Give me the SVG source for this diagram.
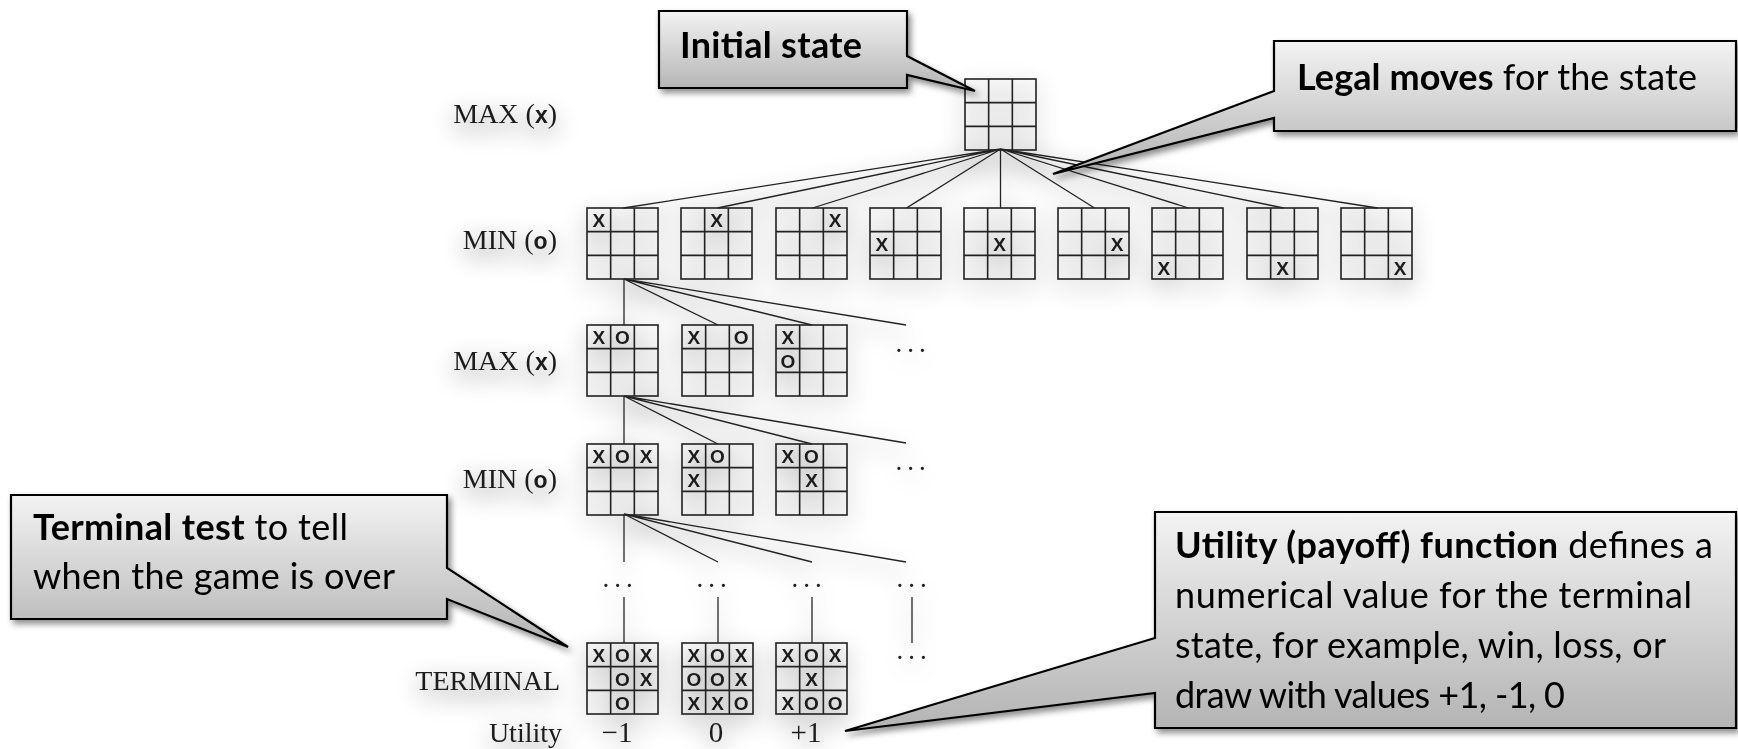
<svg xmlns="http://www.w3.org/2000/svg" xmlns:xlink="http://www.w3.org/1999/xlink" width="1738" height="749" viewBox="0 0 1738 749">
  <defs>
    <style>
      .grid { fill: none; stroke: #222; stroke-width: 1.6; }
      .mk { font-family: "Liberation Sans", Arial, sans-serif; font-weight: bold; font-size: 19px; text-anchor: middle; fill: #1a1a1a; }
      .lbl { font-family: "Liberation Serif", "Times New Roman", serif; font-size: 28px; fill: #1a1a1a; text-anchor: end; }
      .lbl .pl { font-family: "Liberation Sans", Arial, sans-serif; font-weight: bold; font-size: 23px; }
      .val { font-family: "Liberation Serif", "Times New Roman", serif; font-size: 29px; fill: #1a1a1a; text-anchor: middle; }
      .dots { font-family: "Liberation Serif", "Times New Roman", serif; font-size: 27px; fill: #1a1a1a; letter-spacing: 5px; text-anchor: middle; }
      .edge { stroke: #222; stroke-width: 1.3; fill: none; }
      .callout { fill: url(#calloutFill); stroke: #000; stroke-width: 2.2; stroke-linejoin: miter; filter: url(#calloutShadow); }
      .ct { font-family: Lato, "Open Sans", sans-serif; font-size: 36px; fill: #000; }
      .b { font-weight: bold; }
    </style>
    <linearGradient id="calloutFill" x1="0" y1="0" x2="0" y2="1">
      <stop offset="0" stop-color="#f3f3f3"/>
      <stop offset="1" stop-color="#b3b3b3"/>
    </linearGradient>
    <filter id="calloutShadow" x="-10%" y="-10%" width="125%" height="130%">
      <feDropShadow dx="3" dy="4" stdDeviation="3" flood-color="#000" flood-opacity="0.45"/>
    </filter>
    <filter id="haze" x="-20%" y="-20%" width="140%" height="140%">
      <feGaussianBlur in="SourceAlpha" stdDeviation="12" result="blur"/>
      <feOffset in="blur" dx="0" dy="8" result="off"/>
      <feComponentTransfer in="off" result="soft">
        <feFuncA type="linear" slope="0.6"/>
      </feComponentTransfer>
      <feMerge>
        <feMergeNode in="soft"/>
        <feMergeNode in="SourceGraphic"/>
      </feMerge>
    </filter>
    <!-- empty 3x3 tic-tac-toe board, 71 px square -->
    <g id="grid">
      <rect class="grid" x="0" y="0" width="71" height="71"/>
      <path class="grid" d="M23.67,0 V71 M47.33,0 V71 M0,23.67 H71 M0,47.33 H71"/>
    </g>
  </defs>

  <rect width="1738" height="749" fill="#fff"/>

  <g id="tree" filter="url(#haze)">
    <!-- level labels -->
    <g id="labels">
      <text class="lbl" x="557" y="123">MAX (<tspan class="pl">x</tspan>)</text>
      <text class="lbl" x="557" y="249">MIN (<tspan class="pl">o</tspan>)</text>
      <text class="lbl" x="557" y="370">MAX (<tspan class="pl">x</tspan>)</text>
      <text class="lbl" x="557" y="488">MIN (<tspan class="pl">o</tspan>)</text>
      <text class="lbl" x="560" y="690">TERMINAL</text>
      <text class="lbl" x="562" y="742">Utility</text>
    </g>

    <!-- tree edges -->
    <g id="connectors">
      <path class="edge" d="M1000.5,149 L623.5,208 M1000.5,149 L717.5,208 M1000.5,149 L812.5,208 M1000.5,149 L906.5,208 M1000.5,149 L1000.5,208 M1000.5,149 L1094.5,208 M1000.5,149 L1188.5,208 M1000.5,149 L1283.5,208 M1000.5,149 L1377.5,208"/>
      <path class="edge" d="M624,279 V325 M624,279 L718,325 M624,279 L812,325 M624,279 L906,325"/>
      <path class="edge" d="M624,396 V444 M624,396 L718,444 M624,396 L812,444 M624,396 L906,443"/>
      <path class="edge" d="M624,514 V562 M624,514 L718,562 M624,514 L812,562 M624,514 L906,562"/>
      <path class="edge" d="M624,597 V643 M718,597 V643 M812,597 V643 M912,597 V643"/>
    </g>

    <!-- continuation marks -->
    <g id="ellipses">
      <text class="dots" x="913" y="352">...</text>
      <text class="dots" x="913" y="470">...</text>
      <text class="dots" x="620" y="587">...</text>
      <text class="dots" x="714" y="587">...</text>
      <text class="dots" x="809" y="587">...</text>
      <text class="dots" x="914" y="587">...</text>
      <text class="dots" x="914" y="659">...</text>
    </g>

    <!-- root -->
    <g id="root" transform="translate(965,79)"><use href="#grid"/></g>

    <!-- MIN level: the nine first moves -->
    <g id="min1-1" transform="translate(587,208)"><use href="#grid"/><text class="mk" x="11.8" y="19.3">X</text></g>
    <g id="min1-2" transform="translate(681,208)"><use href="#grid"/><text class="mk" x="35.5" y="19.3">X</text></g>
    <g id="min1-3" transform="translate(776,208)"><use href="#grid"/><text class="mk" x="59.2" y="19.3">X</text></g>
    <g id="min1-4" transform="translate(870,208)"><use href="#grid"/><text class="mk" x="11.8" y="43">X</text></g>
    <g id="min1-5" transform="translate(964,208)"><use href="#grid"/><text class="mk" x="35.5" y="43">X</text></g>
    <g id="min1-6" transform="translate(1058,208)"><use href="#grid"/><text class="mk" x="59.2" y="43">X</text></g>
    <g id="min1-7" transform="translate(1152,208)"><use href="#grid"/><text class="mk" x="11.8" y="66.7">X</text></g>
    <g id="min1-8" transform="translate(1247,208)"><use href="#grid"/><text class="mk" x="35.5" y="66.7">X</text></g>
    <g id="min1-9" transform="translate(1341,208)"><use href="#grid"/><text class="mk" x="59.2" y="66.7">X</text></g>

    <!-- MAX level -->
    <g id="max2-1" transform="translate(587,325)"><use href="#grid"/><text class="mk" x="11.8" y="19.3">X</text><text class="mk" x="35.5" y="19.3">O</text></g>
    <g id="max2-2" transform="translate(682,325)"><use href="#grid"/><text class="mk" x="11.8" y="19.3">X</text><text class="mk" x="59.2" y="19.3">O</text></g>
    <g id="max2-3" transform="translate(776,325)"><use href="#grid"/><text class="mk" x="11.8" y="19.3">X</text><text class="mk" x="11.8" y="43">O</text></g>

    <!-- MIN level -->
    <g id="min3-1" transform="translate(587,444)"><use href="#grid"/><text class="mk" x="11.8" y="19.3">X</text><text class="mk" x="35.5" y="19.3">O</text><text class="mk" x="59.2" y="19.3">X</text></g>
    <g id="min3-2" transform="translate(682,444)"><use href="#grid"/><text class="mk" x="11.8" y="19.3">X</text><text class="mk" x="35.5" y="19.3">O</text><text class="mk" x="11.8" y="43">X</text></g>
    <g id="min3-3" transform="translate(776,444)"><use href="#grid"/><text class="mk" x="11.8" y="19.3">X</text><text class="mk" x="35.5" y="19.3">O</text><text class="mk" x="35.5" y="43">X</text></g>

    <!-- terminal states -->
    <g id="term-1" transform="translate(587,643)"><use href="#grid"/>
      <text class="mk" x="11.8" y="19.3">X</text><text class="mk" x="35.5" y="19.3">O</text><text class="mk" x="59.2" y="19.3">X</text>
      <text class="mk" x="35.5" y="43">O</text><text class="mk" x="59.2" y="43">X</text>
      <text class="mk" x="35.5" y="66.7">O</text>
    </g>
    <g id="term-2" transform="translate(682,643)"><use href="#grid"/>
      <text class="mk" x="11.8" y="19.3">X</text><text class="mk" x="35.5" y="19.3">O</text><text class="mk" x="59.2" y="19.3">X</text>
      <text class="mk" x="11.8" y="43">O</text><text class="mk" x="35.5" y="43">O</text><text class="mk" x="59.2" y="43">X</text>
      <text class="mk" x="11.8" y="66.7">X</text><text class="mk" x="35.5" y="66.7">X</text><text class="mk" x="59.2" y="66.7">O</text>
    </g>
    <g id="term-3" transform="translate(776,643)"><use href="#grid"/>
      <text class="mk" x="11.8" y="19.3">X</text><text class="mk" x="35.5" y="19.3">O</text><text class="mk" x="59.2" y="19.3">X</text>
      <text class="mk" x="35.5" y="43">X</text>
      <text class="mk" x="11.8" y="66.7">X</text><text class="mk" x="35.5" y="66.7">O</text><text class="mk" x="59.2" y="66.7">O</text>
    </g>

    <!-- utility values -->
    <g id="values">
      <text class="val" x="617" y="742">−1</text>
      <text class="val" x="716" y="742">0</text>
      <text class="val" x="806" y="742">+1</text>
    </g>
  </g>

  <!-- callouts -->
  <g id="callout-initial">
    <path class="callout" d="M659,11 H907 V56 L975,91 L907,75 V88 H659 Z"/>
    <text class="ct b" x="680" y="58" textLength="182">Initial state</text>
  </g>
  <g id="callout-legal">
    <path class="callout" d="M1274,41 H1736 V131 H1274 V118 L1053,174 L1274,91 Z"/>
    <text class="ct" x="1297" y="90" textLength="400"><tspan class="b">Legal moves</tspan> for the state</text>
  </g>
  <g id="callout-terminal">
    <path class="callout" d="M11,495 H447 V568 L568,647 L447,599 V619 H11 Z"/>
    <text class="ct" x="33" y="540" textLength="315"><tspan class="b">Terminal test</tspan> to tell</text>
    <text class="ct" x="33" y="589" textLength="362">when the game is over</text>
  </g>
  <g id="callout-utility">
    <path class="callout" d="M1155,512 H1736 V728 H1155 V693 L845,731 L1155,638 Z"/>
    <text class="ct" x="1175" y="558" textLength="538"><tspan class="b">Utility (payoff) function</tspan> defines a</text>
    <text class="ct" x="1175" y="608" textLength="517">numerical value for the terminal</text>
    <text class="ct" x="1175" y="658" textLength="491">state, for example, win, loss, or</text>
    <text class="ct" x="1175" y="708" textLength="390">draw with values +1, -1, 0</text>
  </g>
</svg>
